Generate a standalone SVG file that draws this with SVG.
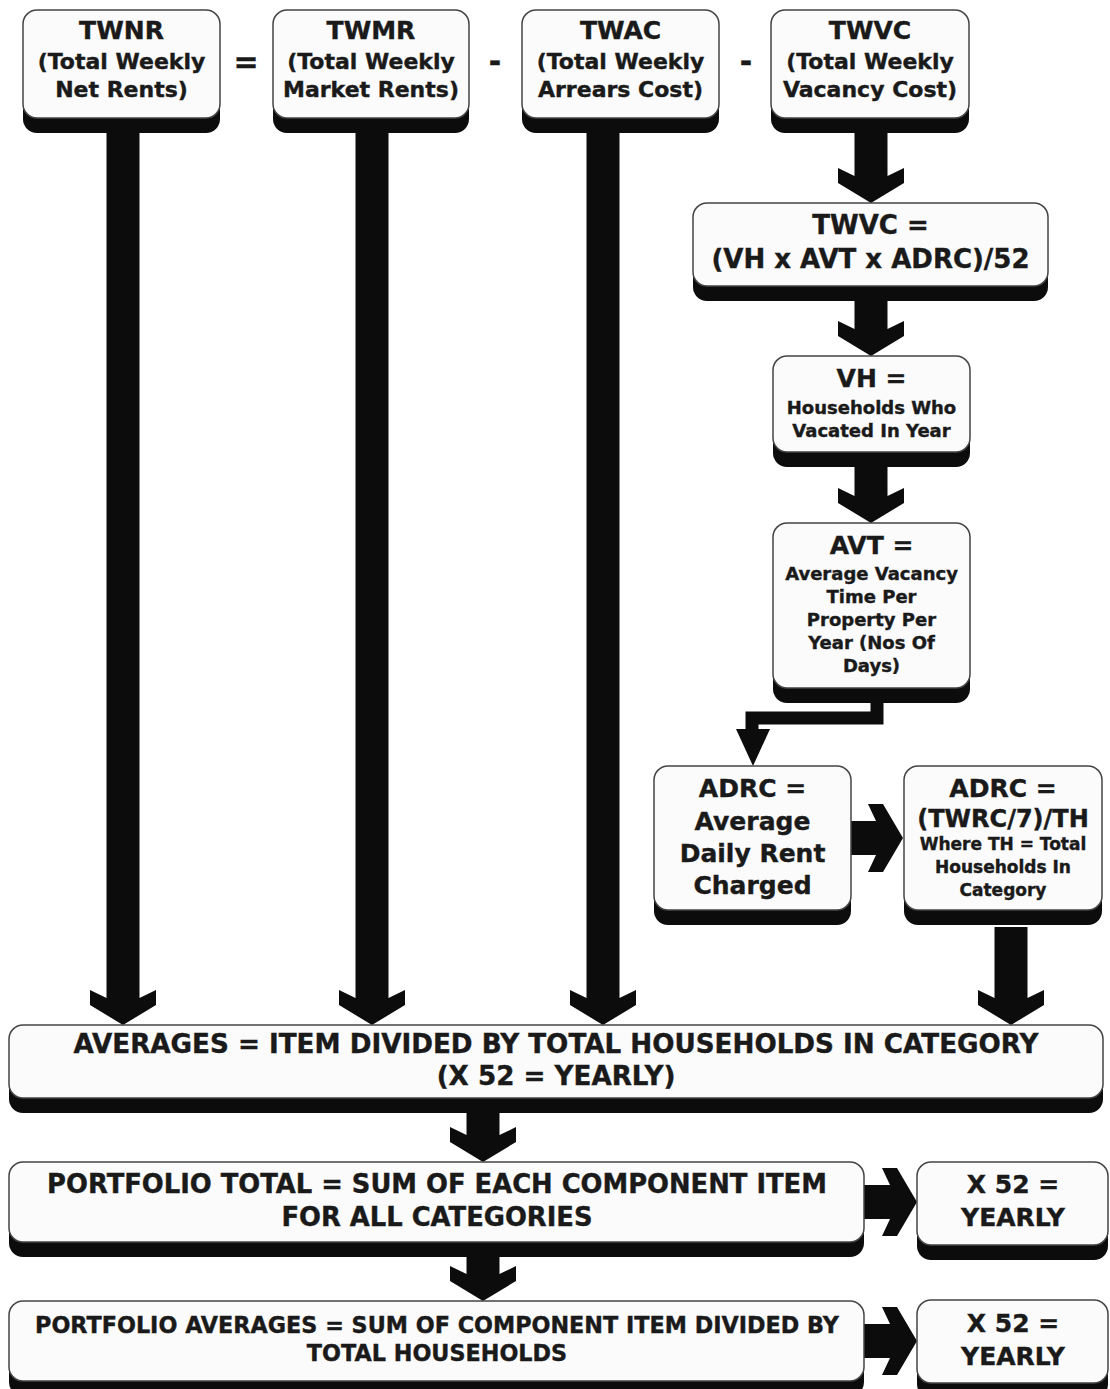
<svg xmlns="http://www.w3.org/2000/svg" width="1110" height="1389" viewBox="0 0 1110 1389">
<style>
.sh{fill:#0c0c0c}
.bx{fill:#fbfbfb;stroke:#444;stroke-width:1.5}
.t{font-family:"DejaVu Sans",Verdana,sans-serif;font-weight:bold;fill:#1a1a1a;stroke:#1a1a1a;stroke-width:0.4;text-anchor:middle}
.c{fill:#0c0c0c}
.el{fill:none;stroke:#0c0c0c;stroke-width:13;stroke-linejoin:miter}
</style>
<rect width="1110" height="1389" fill="#ffffff"/>
<g id="connectors">
<polygon class="c" points="106.5,133 106.5,998 90,990 90,1005 123,1025 156,1005 156,990 139.5,998 139.5,133"/>
<polygon class="c" points="355.5,133 355.5,998 339,990 339,1005 372,1025 405,1005 405,990 388.5,998 388.5,133"/>
<polygon class="c" points="586.5,133 586.5,998 570,990 570,1005 603,1025 636,1005 636,990 619.5,998 619.5,133"/>
<polygon class="c" points="994.5,927 994.5,998 978,990 978,1005 1011,1025 1044,1005 1044,990 1027.5,998 1027.5,927"/>
<polygon class="c" points="854.5,133 854.5,176 838,168 838,183 871,203 904,183 904,168 887.5,176 887.5,133"/>
<polygon class="c" points="854.5,300 854.5,329 838,321 838,336 871,356 904,336 904,321 887.5,329 887.5,300"/>
<polygon class="c" points="854.5,467 854.5,496 838,488 838,503 871,523 904,503 904,488 887.5,496 887.5,467"/>
<path class="el" d="M877,700 V718 H752 V732"/>
<polygon class="c" points="736,729 770,729 753,766"/>
<polygon class="c" points="851,821 876,821 868,804 883,804 903,838 883,872 868,872 876,855 851,855"/>
<polygon class="c" points="466.5,1113 466.5,1135 450,1127 450,1142 483,1162 516,1142 516,1127 499.5,1135 499.5,1113"/>
<polygon class="c" points="466.5,1257 466.5,1274 450,1266 450,1281 483,1301 516,1281 516,1266 499.5,1274 499.5,1257"/>
<polygon class="c" points="864,1185 890,1185 882,1168 897,1168 917,1202 897,1236 882,1236 890,1219 864,1219"/>
<polygon class="c" points="864,1324 890,1324 882,1307 897,1307 917,1341 897,1375 882,1375 890,1358 864,1358"/>
</g>
<g id="ops">
<text class="t" x="246" y="72" font-size="30">=</text>
<text class="t" x="495" y="72" font-size="30">-</text>
<text class="t" x="746" y="72" font-size="30">-</text>
</g>
<g id="twnr">
<rect class="sh" x="23" y="25" width="197" height="108" rx="14"/>
<rect class="bx" x="23" y="10" width="197" height="108" rx="14"/>
<text class="t" x="121.5" y="39" font-size="25">TWNR</text>
<text class="t" x="121.5" y="69" font-size="22">(Total Weekly</text>
<text class="t" x="121.5" y="97" font-size="22">Net Rents)</text>
</g>
<g id="twmr">
<rect class="sh" x="273" y="25" width="196" height="108" rx="14"/>
<rect class="bx" x="273" y="10" width="196" height="108" rx="14"/>
<text class="t" x="371" y="39" font-size="25">TWMR</text>
<text class="t" x="371" y="69" font-size="22">(Total Weekly</text>
<text class="t" x="371" y="97" font-size="22">Market Rents)</text>
</g>
<g id="twac">
<rect class="sh" x="522" y="25" width="197" height="108" rx="14"/>
<rect class="bx" x="522" y="10" width="197" height="108" rx="14"/>
<text class="t" x="620.5" y="39" font-size="25">TWAC</text>
<text class="t" x="620.5" y="69" font-size="22">(Total Weekly</text>
<text class="t" x="620.5" y="97" font-size="22">Arrears Cost)</text>
</g>
<g id="twvc">
<rect class="sh" x="771" y="25" width="198" height="108" rx="14"/>
<rect class="bx" x="771" y="10" width="198" height="108" rx="14"/>
<text class="t" x="870" y="39" font-size="25">TWVC</text>
<text class="t" x="870" y="69" font-size="22">(Total Weekly</text>
<text class="t" x="870" y="97" font-size="22">Vacancy Cost)</text>
</g>
<g id="twvc-formula">
<rect class="sh" x="693" y="218" width="355" height="83" rx="14"/>
<rect class="bx" x="693" y="203" width="355" height="83" rx="14"/>
<text class="t" x="870.5" y="234" font-size="26">TWVC =</text>
<text class="t" x="870.5" y="268" font-size="26">(VH x AVT x ADRC)/52</text>
</g>
<g id="vh">
<rect class="sh" x="773" y="371" width="197" height="96" rx="14"/>
<rect class="bx" x="773" y="356" width="197" height="96" rx="14"/>
<text class="t" x="871.5" y="387" font-size="25">VH =</text>
<text class="t" x="871.5" y="414" font-size="18">Households Who</text>
<text class="t" x="871.5" y="437" font-size="18">Vacated In Year</text>
</g>
<g id="avt">
<rect class="sh" x="773" y="538" width="197" height="165" rx="14"/>
<rect class="bx" x="773" y="523" width="197" height="165" rx="14"/>
<text class="t" x="871.5" y="554" font-size="25">AVT =</text>
<text class="t" x="871.5" y="580" font-size="18">Average Vacancy</text>
<text class="t" x="871.5" y="603" font-size="18">Time Per</text>
<text class="t" x="871.5" y="626" font-size="18">Property Per</text>
<text class="t" x="871.5" y="649" font-size="18">Year (Nos Of</text>
<text class="t" x="871.5" y="672" font-size="18">Days)</text>
</g>
<g id="adrc">
<rect class="sh" x="654" y="781" width="197" height="144" rx="14"/>
<rect class="bx" x="654" y="766" width="197" height="144" rx="14"/>
<text class="t" x="752.5" y="797" font-size="25">ADRC =</text>
<text class="t" x="752.5" y="830" font-size="25">Average</text>
<text class="t" x="752.5" y="862" font-size="25">Daily Rent</text>
<text class="t" x="752.5" y="894" font-size="25">Charged</text>
</g>
<g id="adrc-formula">
<rect class="sh" x="904" y="781" width="198" height="144" rx="14"/>
<rect class="bx" x="904" y="766" width="198" height="144" rx="14"/>
<text class="t" x="1003" y="797" font-size="25">ADRC =</text>
<text class="t" x="1003" y="827" font-size="24">(TWRC/7)/TH</text>
<text class="t" x="1003" y="850" font-size="17">Where TH = Total</text>
<text class="t" x="1003" y="873" font-size="17">Households In</text>
<text class="t" x="1003" y="896" font-size="17">Category</text>
</g>
<g id="averages">
<rect class="sh" x="9" y="1040" width="1094" height="73" rx="14"/>
<rect class="bx" x="9" y="1025" width="1094" height="73" rx="14"/>
<text class="t" x="556" y="1053" font-size="26.2">AVERAGES = ITEM DIVIDED BY TOTAL HOUSEHOLDS IN CATEGORY</text>
<text class="t" x="556" y="1085" font-size="26.2">(X 52 = YEARLY)</text>
</g>
<g id="portfolio-total">
<rect class="sh" x="9" y="1177" width="855" height="80" rx="14"/>
<rect class="bx" x="9" y="1162" width="855" height="80" rx="14"/>
<text class="t" x="437" y="1193" font-size="25.8">PORTFOLIO TOTAL = SUM OF EACH COMPONENT ITEM</text>
<text class="t" x="437" y="1226" font-size="25.8">FOR ALL CATEGORIES</text>
</g>
<g id="yearly-1">
<rect class="sh" x="917" y="1177" width="191" height="83" rx="14"/>
<rect class="bx" x="917" y="1162" width="191" height="83" rx="14"/>
<text class="t" x="1013" y="1193" font-size="25">X 52 =</text>
<text class="t" x="1013" y="1226" font-size="25">YEARLY</text>
</g>
<g id="portfolio-averages">
<rect class="sh" x="9" y="1316" width="855" height="80" rx="14"/>
<rect class="bx" x="9" y="1301" width="855" height="80" rx="14"/>
<text class="t" x="437" y="1333" font-size="22.3">PORTFOLIO AVERAGES = SUM OF COMPONENT ITEM DIVIDED BY</text>
<text class="t" x="437" y="1361" font-size="22.3">TOTAL HOUSEHOLDS</text>
</g>
<g id="yearly-2">
<rect class="sh" x="917" y="1315" width="191" height="83" rx="14"/>
<rect class="bx" x="917" y="1300" width="191" height="83" rx="14"/>
<text class="t" x="1013" y="1332" font-size="25">X 52 =</text>
<text class="t" x="1013" y="1365" font-size="25">YEARLY</text>
</g>
</svg>
